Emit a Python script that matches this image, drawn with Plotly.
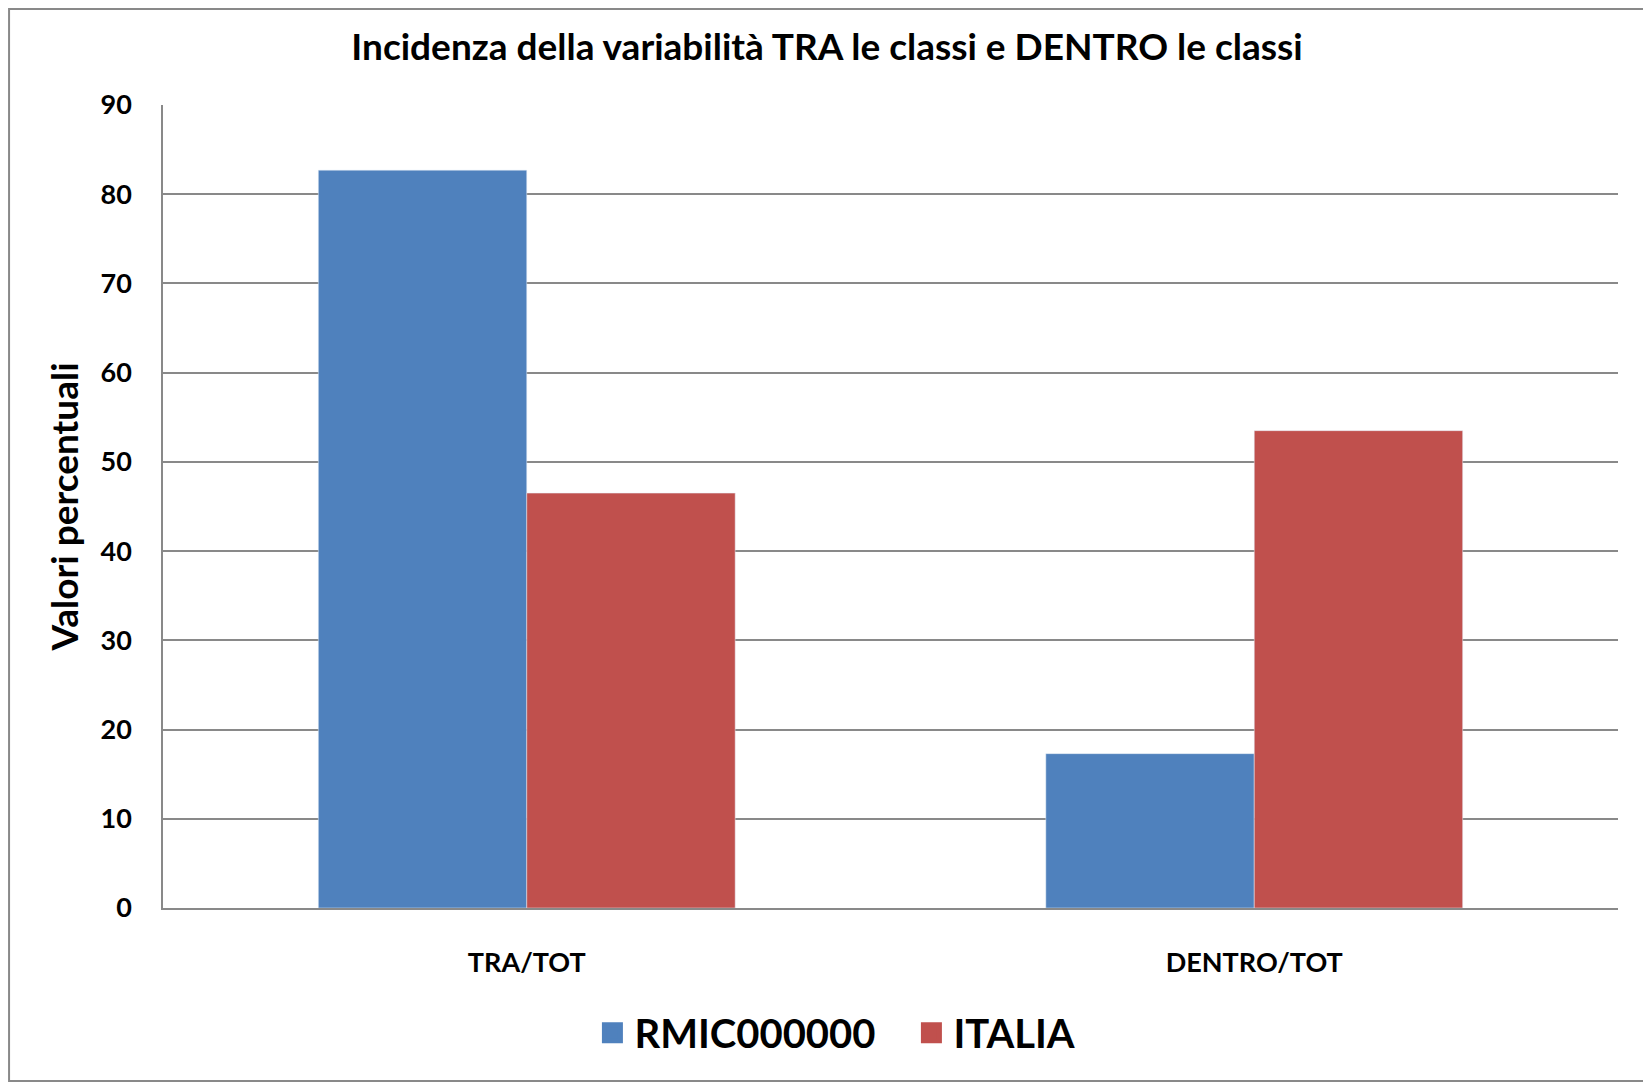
import plotly.graph_objects as go

categories = ["TRA/TOT", "DENTRO/TOT"]
series_names = ["RMIC000000", "ITALIA"]
rmic_values = [82.7, 17.3]
italia_values = [46.5, 53.5]
y_ticks = [0, 10, 20, 30, 40, 50, 60, 70, 80, 90]

blue = "#4F81BD"
red = "#C0504D"
grey = "#898989"
font_name = "Lato"

# the page body has an 8px margin, so the figure is a bit smaller than the window
W, H = 1643, 1075

fig = go.Figure()
fig.add_trace(go.Bar(x=categories, y=rmic_values, name=series_names[0],
                     marker_color=blue, showlegend=False))
fig.add_trace(go.Bar(x=categories, y=italia_values, name=series_names[1],
                     marker_color=red, showlegend=False))

# legend entries with bigger squares than the bar default
for name, col in zip(series_names, [blue, red]):
    fig.add_trace(go.Scatter(x=[None], y=[None], mode="markers", name=name,
                             marker=dict(symbol="square", size=16, color=col,
                                         line=dict(color=col, width=5))))

fig.update_layout(
    width=W, height=H,
    margin=dict(l=155, r=33, t=97, b=175),
    paper_bgcolor="white", plot_bgcolor="white",
    font=dict(family=font_name, color="black"),
    barmode="group", bargap=0.427, bargroupgap=0,
    title=dict(text="Incidenza della variabilità TRA le classi e DENTRO le classi",
               x=0.4985, xanchor="center", y=1 - 39.5 / H, yanchor="middle",
               font=dict(size=37, weight="bold")),
    legend=dict(orientation="h", x=0.513, xanchor="center", y=-0.1555, yanchor="middle",
                font=dict(size=40, weight="bold"), itemwidth=34, entrywidth=270),
    shapes=[dict(type="rect", xref="paper", yref="paper",
                 x0=-0.1058, x1=1.0192, y0=-0.2154, y1=1.1195,
                 line=dict(color=grey, width=2), layer="below")],
)

fig.update_xaxes(showline=True, linecolor=grey, linewidth=1.5,
                 tickfont=dict(size=27, weight="bold"), ticklabelstandoff=30,
                 showgrid=False)
fig.update_yaxes(range=[0, 90], tickvals=y_ticks, showline=True, linecolor=grey,
                 linewidth=1.5, showgrid=True, gridcolor=grey, gridwidth=1.5,
                 tickfont=dict(size=27, weight="bold"), ticklabelstandoff=24,
                 zeroline=False,
                 title=dict(text="Valori percentuali", standoff=11,
                            font=dict(size=37, weight="bold")))

fig.write_html("out.html")
